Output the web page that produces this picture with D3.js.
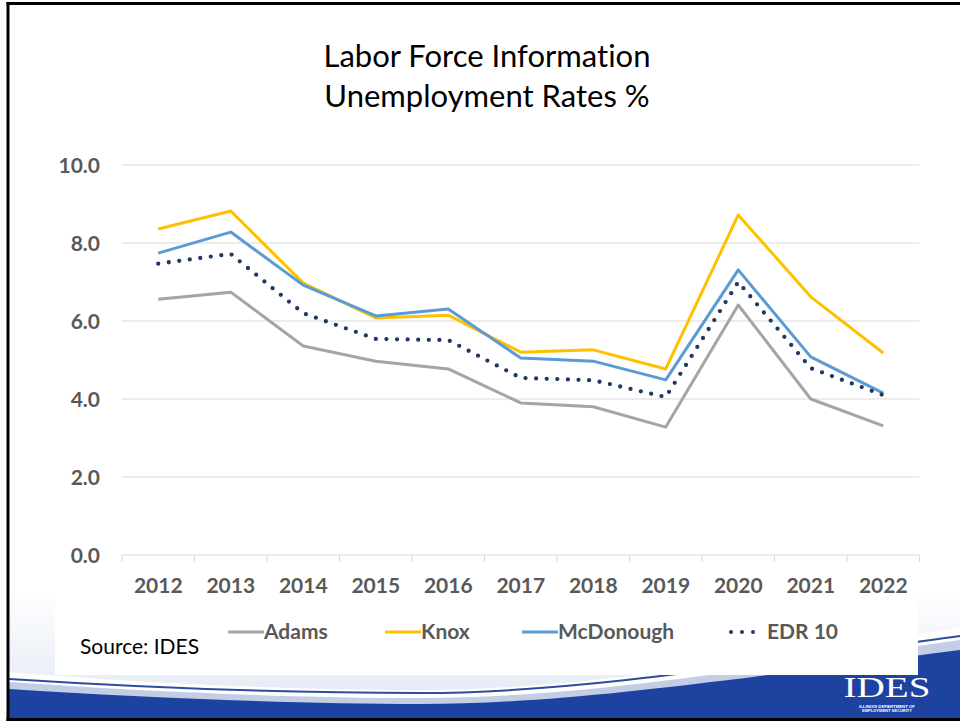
<!DOCTYPE html>
<html>
<head>
<meta charset="utf-8">
<script src="https://cdn.jsdelivr.net/npm/d3@7/dist/d3.min.js"></script>
<style>
  html, body { margin: 0; padding: 0; background: #ffffff; }
  svg { display: block; }
  text { font-variant-ligatures: none; font-feature-settings: "liga" 0, "clig" 0; }
</style>
</head>
<body>
<svg id="chart" width="960" height="723"></svg>
<script>
// ---------- DATA ----------
const years = ["2012","2013","2014","2015","2016","2017","2018","2019","2020","2021","2022"];
const adams     = [6.56, 6.74, 5.36, 4.97, 4.77, 3.90, 3.80, 3.28, 6.41, 4.00, 3.31];
const knox      = [8.36, 8.82, 6.97, 6.08, 6.15, 5.20, 5.26, 4.77, 8.72, 6.62, 5.18];
const mcdonough = [7.74, 8.28, 6.92, 6.13, 6.31, 5.05, 4.97, 4.49, 7.31, 5.08, 4.15];
const edr10     = [7.47, 7.72, 6.20, 5.54, 5.51, 4.54, 4.48, 4.05, 7.00, 4.79, 4.10];
const seriesNames = ["Adams", "Knox", "McDonough", "EDR 10"];
const yTicks = [0, 2, 4, 6, 8, 10];
const titleLines = ["Labor Force Information", "Unemployment Rates %"];

// ---------- STYLE ----------
const colors = { "Adams": "#a5a5a5", "Knox": "#ffc000", "McDonough": "#5b9bd5", "EDR 10": "#203864" };
const series = [
  { name: "Adams", values: adams },
  { name: "Knox", values: knox },
  { name: "McDonough", values: mcdonough },
  { name: "EDR 10", values: edr10 }
];

const svg = d3.select("#chart");
const W = 960, H = 723;

// ---------- SLIDE BACKGROUND ----------
const defs = svg.append("defs");
const bgGrad = defs.append("linearGradient").attr("id", "bgGrad")
  .attr("x1", 0).attr("y1", 0).attr("x2", 0).attr("y2", 1);
bgGrad.append("stop").attr("offset", "0%").attr("stop-color", "#ffffff");
bgGrad.append("stop").attr("offset", "100%").attr("stop-color", "#dfe6f2");

svg.append("rect").attr("x", 0).attr("y", 0).attr("width", W).attr("height", H).attr("fill", "#ffffff");
svg.append("rect").attr("x", 9).attr("y", 590).attr("width", W - 9).attr("height", 128).attr("fill", "url(#bgGrad)");

// white band above the blue swoosh
svg.append("path")
  .attr("d", "M9,672 C150,684 300,690 420,690 C560,690 700,668 960,628 L960,660 C700,690 560,708 420,708 C300,708 150,700 9,690 Z")
  .attr("fill", "#ffffff");
// pale blue stripe
svg.append("path")
  .attr("d", "M9,682 C150,692 300,698 420,698 C560,698 700,677 960,640 L960,652 C700,690 560,706 420,706 C300,706 150,698 9,690 Z")
  .attr("fill", "#c3cee6");
// thin dark line
svg.append("path")
  .attr("d", "M9,679 C150,688 300,693 420,693 C560,693 700,672 960,636")
  .attr("fill", "none").attr("stroke", "#2d4c9e").attr("stroke-width", 2);
// blue body
svg.append("path")
  .attr("d", "M9,689 C150,698 300,704 420,704 C560,704 700,684 960,650 L960,719 L9,719 Z")
  .attr("fill", "#1d42a0");

// white chart area
svg.append("rect").attr("x", 55).attr("y", 0).attr("width", 863).attr("height", 675).attr("fill", "#ffffff");
svg.append("rect").attr("x", 9).attr("y", 0).attr("width", 951).attr("height", 591).attr("fill", "#ffffff");

// IDES logo
const logo = svg.append("g").attr("fill", "#ffffff");
logo.append("text").attr("x", 887).attr("y", 697).attr("text-anchor", "middle")
  .attr("font-family", "'Liberation Serif', 'DejaVu Serif', serif").attr("font-size", 30)
  .attr("textLength", 87).attr("lengthAdjust", "spacingAndGlyphs")
  .text("IDES");
logo.append("text").attr("x", 887).attr("y", 707.5).attr("text-anchor", "middle")
  .attr("font-family", "'Liberation Sans', sans-serif").attr("font-size", 3.5).attr("font-weight", "bold")
  .attr("textLength", 56).attr("lengthAdjust", "spacingAndGlyphs")
  .text("ILLINOIS DEPARTMENT OF");
logo.append("text").attr("x", 887).attr("y", 712).attr("text-anchor", "middle")
  .attr("font-family", "'Liberation Sans', sans-serif").attr("font-size", 3.5).attr("font-weight", "bold")
  .attr("textLength", 50).attr("lengthAdjust", "spacingAndGlyphs")
  .text("EMPLOYMENT SECURITY");

// frame
svg.append("line").attr("x1", 8).attr("x2", 8).attr("y1", 2).attr("y2", 721).attr("stroke", "#000").attr("stroke-width", 3);
svg.append("line").attr("x1", 6.5).attr("x2", W).attr("y1", 3.5).attr("y2", 3.5).attr("stroke", "#000").attr("stroke-width", 3);
svg.append("line").attr("x1", 6.5).attr("x2", W).attr("y1", 719.5).attr("y2", 719.5).attr("stroke", "#000").attr("stroke-width", 3);

// ---------- TITLE ----------
const titleFont = "Lato, 'Open Sans', sans-serif";
svg.append("g").selectAll("text").data(titleLines).join("text")
  .attr("x", 487).attr("y", (d, i) => 67 + i * 40)
  .attr("text-anchor", "middle")
  .attr("font-family", titleFont).attr("font-size", 31)
  .attr("fill", "#000000")
  .text(d => d);

// ---------- SCALES ----------
const x = d3.scaleBand().domain(years).range([122, 919.5]).padding(0);
const y = d3.scaleLinear().domain([0, 10]).range([555, 165]);
const labelFont = "Lato, 'Open Sans', sans-serif";
const labelColor = "#595959";
const labelSize = 21;

// gridlines
svg.append("g").selectAll("line").data(yTicks).join("line")
  .attr("x1", 122).attr("x2", 919.5)
  .attr("y1", d => y(d)).attr("y2", d => y(d))
  .attr("stroke", "#d9d9d9").attr("stroke-width", 1);

// y labels
svg.append("g").selectAll("text").data(yTicks).join("text")
  .attr("x", 100).attr("y", d => y(d) + 7.5)
  .attr("text-anchor", "end")
  .attr("font-family", labelFont).attr("font-weight", "bold").attr("font-size", labelSize)
  .attr("fill", labelColor)
  .text(d => d3.format(".1f")(d));

// x axis tick marks at band boundaries
const boundaries = years.map(d => x(d)).concat([x(years[years.length - 1]) + x.bandwidth()]);
svg.append("g").selectAll("line").data(boundaries).join("line")
  .attr("x1", d => d).attr("x2", d => d)
  .attr("y1", 555).attr("y2", 562)
  .attr("stroke", "#d9d9d9").attr("stroke-width", 1);

// x labels
svg.append("g").selectAll("text").data(years).join("text")
  .attr("x", d => x(d) + x.bandwidth() / 2).attr("y", 593)
  .attr("text-anchor", "middle")
  .attr("font-family", labelFont).attr("font-weight", "bold").attr("font-size", labelSize)
  .attr("fill", labelColor)
  .text(d => d);

// ---------- LINES ----------
const line = d3.line()
  .x((d, i) => x(years[i]) + x.bandwidth() / 2)
  .y(d => y(d));

svg.append("g").selectAll("path").data(series).join("path")
  .attr("d", d => line(d.values))
  .attr("fill", "none")
  .attr("stroke", d => colors[d.name])
  .attr("stroke-width", d => d.name === "EDR 10" ? 4.3 : 3)
  .attr("stroke-linejoin", "round")
  .attr("stroke-linecap", d => d.name === "EDR 10" ? "round" : "butt")
  .attr("stroke-dasharray", d => d.name === "EDR 10" ? "0 10.6" : null);

// ---------- LEGEND ----------
const legendItems = [
  { name: "Adams", x0: 228 },
  { name: "Knox", x0: 385 },
  { name: "McDonough", x0: 522 },
  { name: "EDR 10", x0: 731 }
];
const lg = svg.append("g");
lg.selectAll("line").data(legendItems).join("line")
  .attr("x1", d => d.x0).attr("x2", d => d.name === "EDR 10" ? d.x0 + 33 : d.x0 + 36)
  .attr("y1", 632).attr("y2", 632)
  .attr("stroke", d => colors[d.name])
  .attr("stroke-width", d => d.name === "EDR 10" ? 4 : 3)
  .attr("stroke-linecap", d => d.name === "EDR 10" ? "round" : "butt")
  .attr("stroke-dasharray", d => d.name === "EDR 10" ? "0 11" : null);
lg.selectAll("text").data(legendItems).join("text")
  .attr("x", d => d.x0 + 36).attr("y", 639)
  .attr("font-family", labelFont).attr("font-weight", "bold").attr("font-size", labelSize)
  .attr("fill", labelColor)
  .text(d => d.name);

// source
svg.append("text").attr("x", 80).attr("y", 654)
  .attr("font-family", labelFont).attr("font-size", 21).attr("fill", "#000000")
  .text("Source: IDES");
</script>
</body>
</html>
